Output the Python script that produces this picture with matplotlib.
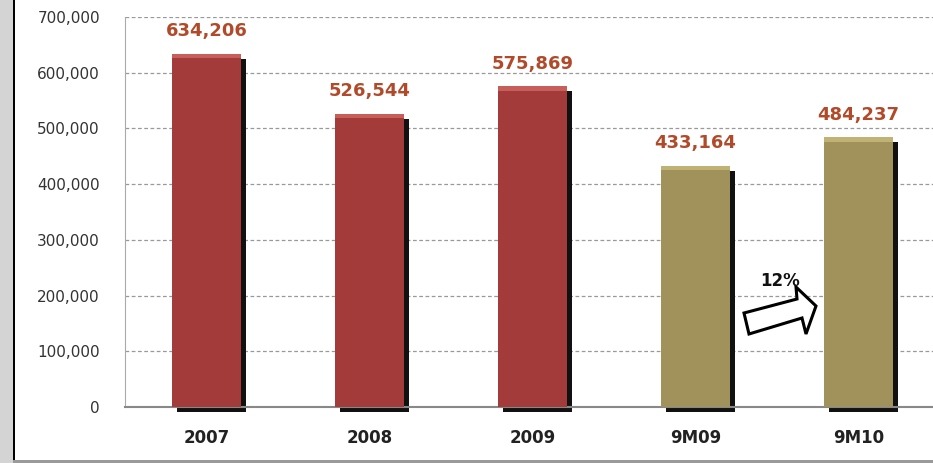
import numpy as np
import matplotlib
matplotlib.use("Agg")
from matplotlib import pyplot as plt
from matplotlib.patches import Rectangle, Polygon
from matplotlib.ticker import FuncFormatter
import matplotlib.transforms as mtransforms

categories = ["2007", "2008", "2009", "9M09", "9M10"]
values = [634206, 526544, 575869, 433164, 484237]
bar_colors = ["#A33B3B", "#A33B3B", "#A33B3B", "#A0925A", "#A0925A"]
top_colors = ["#C65E5A", "#C65E5A", "#C65E5A", "#BFB274", "#BFB274"]
growth_label = "12%"

W, H = 933, 463
fig = plt.figure(figsize=(W / 100, H / 100), dpi=100)
fig.patch.set_facecolor("white")

# left frame strip and bottom line
fig.patches.append(Rectangle((0, 0), 13 / W, 1, transform=fig.transFigure,
                             facecolor="#D4D4D4", edgecolor="none", zorder=0))
fig.patches.append(Rectangle((13 / W, 0), 2.5 / W, 1, transform=fig.transFigure,
                             facecolor="black", edgecolor="none", zorder=1))
fig.patches.append(Rectangle((13 / W, 0), 1, 3 / H, transform=fig.transFigure,
                             facecolor="#9A9A9A", edgecolor="none", zorder=1))

ax = fig.add_axes([125 / W, (H - 407) / H, 815 / W, 390 / H])
ax.set_facecolor("white")

x = np.arange(len(categories))
width = 0.42

# shadows
shadow = mtransforms.offset_copy(ax.transData, fig=fig, x=5, y=-5, units="dots")
for xi, v in zip(x, values):
    ax.add_patch(Rectangle((xi - width / 2, 0), width, v, facecolor="#111111",
                           edgecolor="none", transform=shadow, zorder=2, clip_on=False))

ax.bar(x, values, width=width, color=bar_colors, edgecolor="none", zorder=3)
for xi, v, tc in zip(x, values, top_colors):
    ax.add_patch(Rectangle((xi - width / 2, v - 8000), width, 8000, facecolor=tc,
                           edgecolor="none", zorder=4))
    ax.text(xi, v + 24000, f"{v:,}", ha="center", va="bottom", fontsize=13,
            fontweight="bold", color="#B04A2A", zorder=5)

ax.set_xlim(-0.5, len(categories) - 0.5)
ax.set_ylim(0, 700000)
ax.set_yticks(np.arange(0, 700001, 100000))
ax.yaxis.set_major_formatter(FuncFormatter(lambda v, p: f"{int(v):,}"))
ax.set_xticks(x)
ax.set_xticklabels(categories, fontsize=12, fontweight="bold", color="#222222")
ax.tick_params(axis="x", length=0, pad=16)
ax.tick_params(axis="y", length=0, pad=18, labelsize=11, labelcolor="#333333")

ax.grid(axis="y", linestyle=(0, (3, 2)), color="#999999", linewidth=0.9, zorder=0)
ax.set_axisbelow(True)
for s in ["top", "right"]:
    ax.spines[s].set_visible(False)
ax.spines["left"].set_color("#AAAAAA")
ax.spines["bottom"].set_color("#888888")
ax.spines["bottom"].set_linewidth(1.5)

# growth arrow between 9M09 and 9M10 (outline block arrow, pixel outline)
arrow_px = [(744, 313), (797, 299), (796, 287), (816, 306),
            (806, 334), (802, 318), (749, 334)]
arrow_fig = [(px / W, 1 - py / H) for px, py in arrow_px]
fig.patches.append(Polygon(arrow_fig, closed=True, transform=fig.transFigure,
                           facecolor="white", edgecolor="black", linewidth=2.2,
                           joinstyle="miter", zorder=6))
fig.text(780 / W, 1 - 281 / H, growth_label, ha="center", va="center", fontsize=12,
         fontweight="bold", color="#111111", zorder=7)

fig.savefig("out.png", dpi=100)
